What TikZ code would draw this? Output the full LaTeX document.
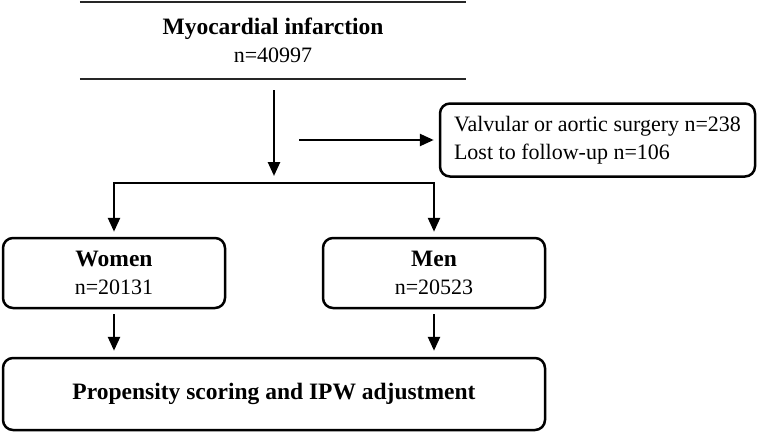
\documentclass[tikz,border=0pt]{standalone}
\usepackage{fontspec}
\setmainfont{Liberation Serif}
\usetikzlibrary{arrows.meta}

% bold heading inside the boxes
\newcommand{\boxhead}[1]{{\fontsize{23.5}{28}\selectfont\bfseries #1}}

\begin{document}
\begin{tikzpicture}[x=1pt, y=-1pt,
    every node/.style={font=\fontsize{22}{28}\selectfont},
    box/.style={draw, line width=2.5pt, rounded corners=10pt, align=center, inner sep=0pt},
    arr/.style={line width=2.5pt, -{Triangle[length=14pt,width=12pt]}}]

    \useasboundingbox (0,0) rectangle (759,434);

    % Top box, only its upper and lower edges are drawn
    \node[align=center, minimum width=386pt, minimum height=77pt] (mi) at (273,40.5)
        {\boxhead{Myocardial infarction}\\n=40997};
    \draw[line width=2.5pt, black!85] (mi.north west) -- (mi.north east);
    \draw[line width=2.5pt, black!85] (mi.south west) -- (mi.south east);

    % Exclusions
    \node[box, align=left, minimum width=315pt, minimum height=73pt] (excl) at (597.5,140)
        {Valvular or aortic surgery n=238\\Lost to follow-up n=106};

    % Groups
    \node[box, minimum width=222pt, minimum height=70pt] (women) at (114,273)
        {\boxhead{Women}\\n=20131};
    \node[box, minimum width=222pt, minimum height=70pt] (men) at (434,273)
        {\boxhead{Men}\\n=20523};

    \node[box, minimum width=542pt, minimum height=72pt] (ps) at (274,394)
        {\boxhead{Propensity scoring and IPW adjustment}};

    % Split point and branch point
    \coordinate (split) at (274,183);
    \coordinate (branch) at (274,140);

    % Arrows
    \draw[arr, shorten <=11pt, shorten >=7pt] (mi.south -| split) -- (split);
    \draw[arr, shorten <=25pt, shorten >=5pt] (branch) -- (excl.west);
    \draw[arr, shorten >=5pt] (split) -| (women.north);
    \draw[arr, shorten >=5pt] (split) -| (men.north);
    \draw[arr, shorten <=5pt, shorten >=6pt] (women.south) -- (women.south |- ps.north);
    \draw[arr, shorten <=5pt, shorten >=6pt] (men.south) -- (men.south |- ps.north);

\end{tikzpicture}
\end{document}
